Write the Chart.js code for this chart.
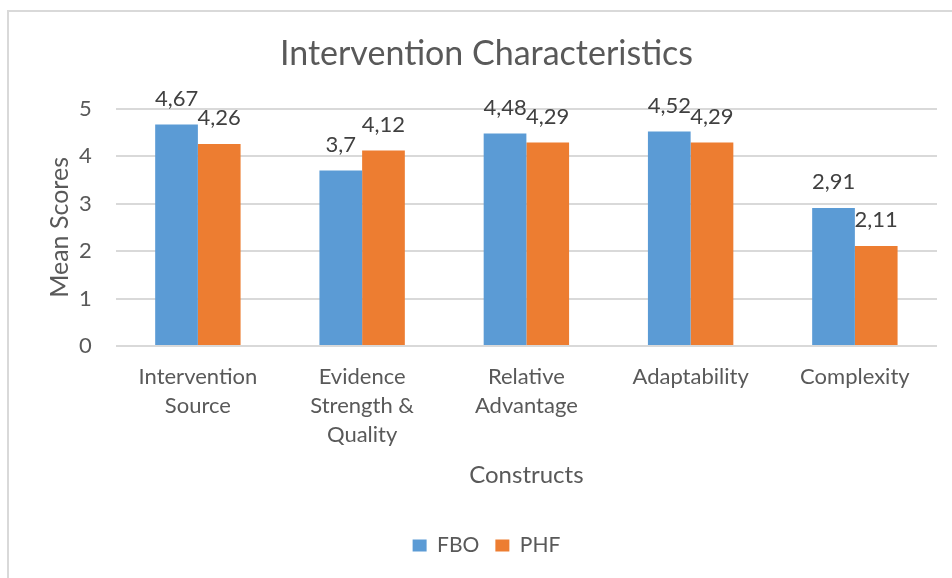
<!DOCTYPE html>
<html>
<head>
<meta charset="utf-8">
<script src="https://cdn.jsdelivr.net/npm/chart.js@4/dist/chart.umd.min.js"></script>
<style>
  html, body { margin: 0; padding: 0; background: #fff; }
  #wrap { position: relative; width: 952px; height: 578px; overflow: hidden; }
  #frame { position: absolute; left: 7px; top: 10px; width: 960px; height: 600px; border: 2px solid #d9d9d9; box-sizing: border-box; }
  #c { position: absolute; left: 0; top: 0; }
</style>
</head>
<body>
<div id="wrap">
  <div id="frame"></div>
  <canvas id="c" width="952" height="578"></canvas>
</div>
<script>
const categories = [
  ["Intervention", "Source"],
  ["Evidence", "Strength &", "Quality"],
  ["Relative", "Advantage"],
  ["Adaptability"],
  ["Complexity"]
];
const fboValues = [4.67, 3.70, 4.48, 4.52, 2.91];
const phfValues = [4.26, 4.12, 4.29, 4.29, 2.11];
const yTicks = [0, 1, 2, 3, 4, 5];

const FONT = "Lato, 'Noto Sans', sans-serif";
const TEXT = "#595959";

const valueLabels = {
  id: 'valueLabels',
  afterDatasetsDraw(chart) {
    const ctx = chart.ctx;
    ctx.save();
    ctx.font = "22px " + FONT;
    ctx.fillStyle = "#404040";
    ctx.textAlign = "center";
    ctx.textBaseline = "middle";
    chart.data.datasets.forEach((ds, i) => {
      const meta = chart.getDatasetMeta(i);
      meta.data.forEach((bar, j) => {
        const v = ds.data[j];
        const txt = String(v).replace('.', ',');
        ctx.fillText(txt, bar.x, bar.y - 26);
      });
    });
    ctx.restore();
  }
};

new Chart(document.getElementById('c'), {
  type: 'bar',
  data: {
    labels: categories,
    datasets: [
      { label: 'FBO', data: fboValues, backgroundColor: '#5B9BD5', barPercentage: 1.0, categoryPercentage: 0.52 },
      { label: 'PHF', data: phfValues, backgroundColor: '#ED7D31', barPercentage: 1.0, categoryPercentage: 0.52 }
    ]
  },
  options: {
    responsive: false,
    animation: false,
    layout: { padding: { left: 36, right: 15, top: 0, bottom: 12 } },
    plugins: {
      title: {
        display: true,
        text: 'Intervention Characteristics',
        color: TEXT,
        font: { family: FONT, size: 34, weight: 'normal' },
        padding: { top: 34, bottom: 34 }
      },
      legend: {
        position: 'bottom',
        labels: {
          color: TEXT,
          font: { family: FONT, size: 21 },
          boxWidth: 14,
          boxHeight: 12,
          padding: 16
        }
      },
      tooltip: { enabled: false }
    },
    scales: {
      x: {
        grid: { display: false, drawTicks: false },
        border: { display: false },
        ticks: {
          color: TEXT,
          font: { family: FONT, size: 22, lineHeight: 1.32 },
          padding: 16,
          maxRotation: 0,
          autoSkip: false
        },
        title: {
          display: true,
          text: 'Constructs',
          color: TEXT,
          font: { family: FONT, size: 24 },
          padding: { top: -4, bottom: 29 }
        }
      },
      y: {
        min: 0,
        max: 5,
        afterBuildTicks(scale) { scale.ticks = yTicks.map(v => ({ value: v })); },
        grid: { color: '#d9d9d9', lineWidth: 2, drawTicks: false },
        border: { display: false },
        ticks: {
          color: TEXT,
          font: { family: FONT, size: 22 },
          padding: 24
        },
        title: {
          display: true,
          text: 'Mean Scores',
          color: TEXT,
          font: { family: FONT, size: 25 },
          padding: { top: 9, bottom: -20 }
        }
      }
    }
  },
  plugins: [valueLabels]
});
</script>
</body>
</html>
